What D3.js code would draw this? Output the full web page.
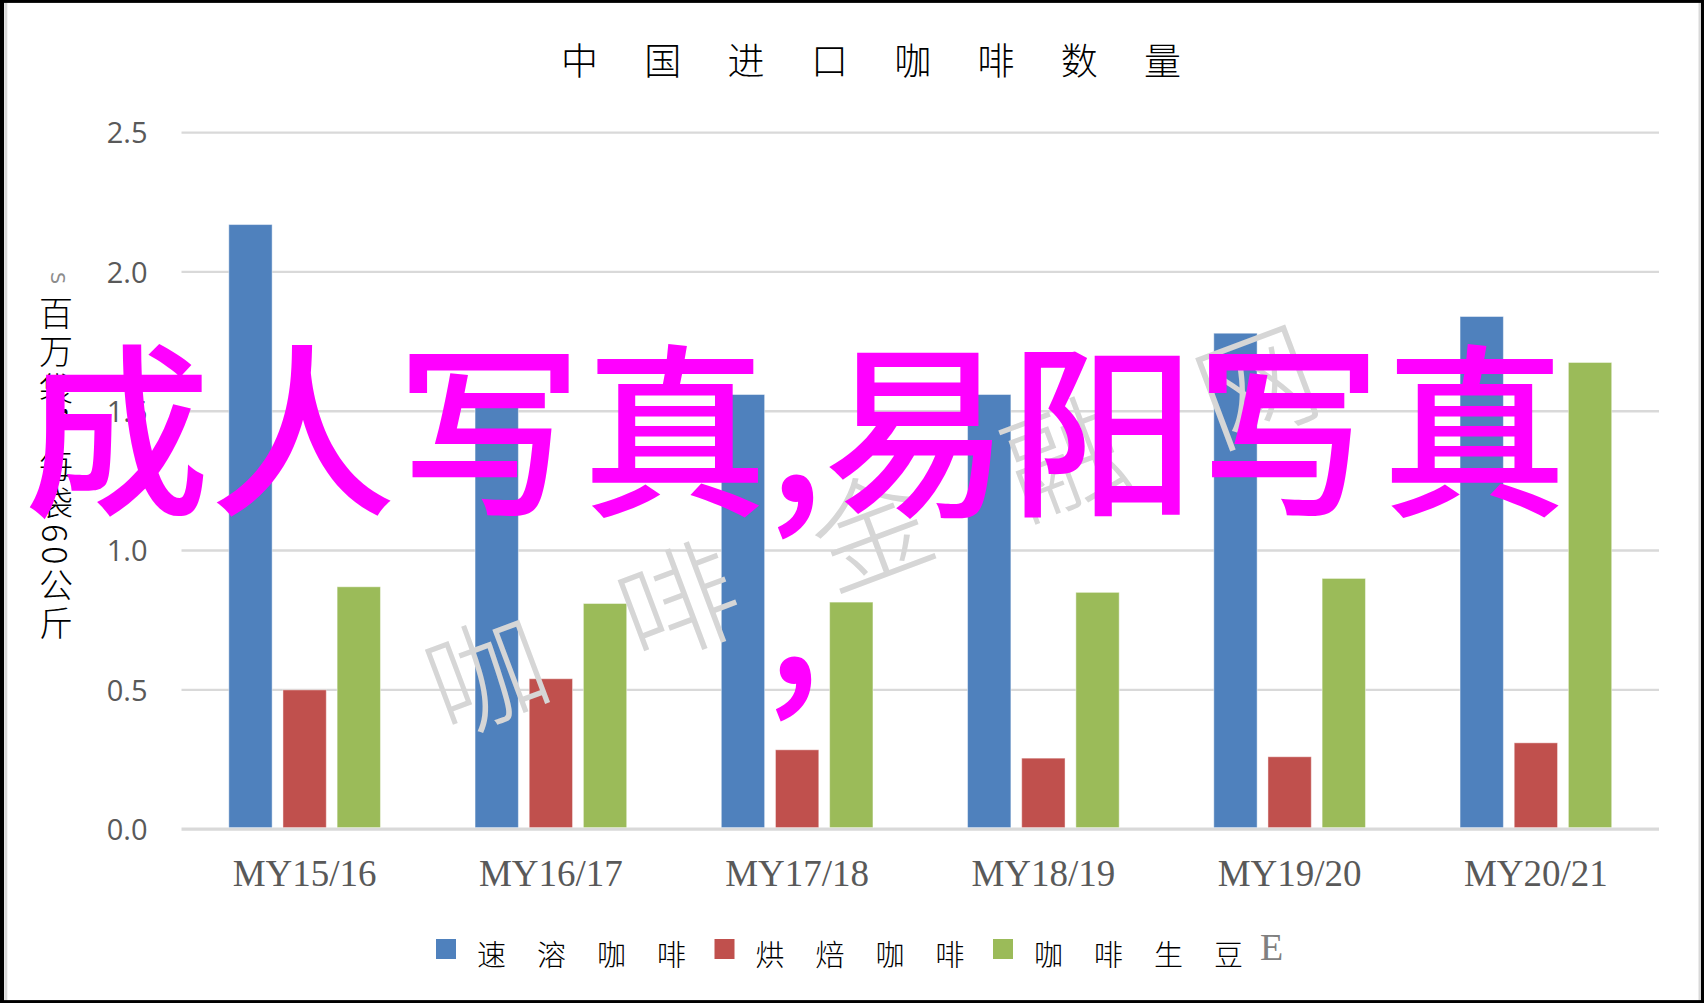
<!DOCTYPE html>
<html>
<head>
<meta charset="utf-8">
<script src="https://cdn.jsdelivr.net/npm/d3@7/dist/d3.min.js"></script>
<style>
  html, body { margin: 0; padding: 0; background: #fff; }
  svg { display: block; }
</style>
</head>
<body>
<svg id="chart" width="1704" height="1003"></svg>
<script>
// ---- data ----
const categories = ["MY15/16", "MY16/17", "MY17/18", "MY18/19", "MY19/20", "MY20/21"];
const seriesNames = ["速溶咖啡", "烘焙咖啡", "咖啡生豆"];
const instantCoffee = [2.17, 1.53, 1.56, 1.56, 1.78, 1.84];
const roastedCoffee = [0.50, 0.54, 0.285, 0.255, 0.26, 0.31];
const greenBeans = [0.87, 0.81, 0.815, 0.85, 0.90, 1.675];
const yTicks = [0, 0.5, 1.0, 1.5, 2.0, 2.5];
const titleText = "中国进口咖啡数量";
const yLabelText = "百万袋，每袋60公斤";
const watermarkText = "咖啡金融网";
const overlayText = "成人写真,易阳写真";

const seriesValues = [instantCoffee, roastedCoffee, greenBeans];
const colors = ["#4F81BD", "#C0504D", "#9BBB59"];

const W = 1704, H = 1003;
const plot = { left: 181.5, right: 1659, top: 132.6, bottom: 829.2 };

const svg = d3.select("#chart");

svg.append("rect").attr("x", 0).attr("y", 0).attr("width", W).attr("height", H).attr("fill", "#fff");

const x0 = d3.scaleBand().domain(categories).range([plot.left, plot.right]).padding(0);
const x1 = d3.scaleBand().domain(d3.range(seriesNames.length))
  .range([47.3, x0.bandwidth() - 47.3]).paddingInner(0.2);
const y = d3.scaleLinear().domain([0, 2.5]).range([plot.bottom, plot.top]);

// gridlines
svg.append("g").selectAll("line").data(yTicks).join("line")
  .attr("x1", plot.left).attr("x2", plot.right)
  .attr("y1", d => y(d)).attr("y2", d => y(d))
  .attr("stroke", "#d9d9d9")
  .attr("stroke-width", d => d === 0 ? 3.2 : 2.4);

// y axis labels
const yAxis = d3.axisLeft(y).tickValues(yTicks).tickFormat(d3.format(".1f")).tickSize(0).tickPadding(34);
const gy = svg.append("g").attr("transform", `translate(${plot.left},0)`).call(yAxis);
gy.select(".domain").remove();
gy.selectAll("text")
  .attr("fill", "#595959")
  .attr("font-family", "'Open Sans', 'DejaVu Sans', sans-serif")
  .attr("font-size", 29)
  .attr("dy", "0.35em");

// x axis labels
const xAxis = d3.axisBottom(x0).tickSize(0);
const gx = svg.append("g").attr("transform", `translate(0,${plot.bottom})`).call(xAxis);
gx.select(".domain").remove();
gx.selectAll("text")
  .attr("fill", "#595959")
  .attr("font-family", "'Liberation Serif', 'Times New Roman', serif")
  .attr("font-size", 37)
  .attr("y", 56.5)
  .attr("dy", 0);

// bars
const rows = categories.map((c, i) => ({ cat: c, vals: seriesValues.map(s => s[i]) }));
const groups = svg.append("g").selectAll("g").data(rows).join("g")
  .attr("transform", d => `translate(${x0(d.cat)},0)`);
groups.selectAll("rect").data(d => d.vals.map((v, k) => ({ v, k }))).join("rect")
  .attr("x", d => x1(d.k))
  .attr("width", x1.bandwidth())
  .attr("y", d => y(d.v))
  .attr("height", d => y(0) - y(d.v) - 1.6)
  .attr("fill", d => colors[d.k])
  .attr("stroke", "#ffffff")
  .attr("stroke-opacity", 0.45)
  .attr("stroke-width", 1);

// title
svg.append("text")
  .attr("x", 561).attr("y", 59)
  .attr("dominant-baseline", "central")
  .attr("font-family", "'Noto Sans CJK SC', sans-serif")
  .attr("font-weight", 300)
  .attr("font-size", 37)
  .attr("letter-spacing", 46.3)
  .attr("fill", "#000")
  .text(titleText);

// y axis title (vertical)
svg.append("text")
  .attr("x", 56).attr("y", 296)
  .attr("font-family", "'Noto Sans CJK SC', sans-serif")
  .attr("font-weight", 300)
  .attr("font-size", 34)
  .attr("letter-spacing", 4)
  .attr("fill", "#000")
  .style("writing-mode", "vertical-rl")
  .text(yLabelText);
svg.append("text")
  .attr("transform", "translate(58,278) rotate(90)")
  .attr("text-anchor", "middle")
  .attr("dominant-baseline", "central")
  .attr("font-family", "'DejaVu Sans', sans-serif")
  .attr("font-size", 19)
  .attr("fill", "#8c8c8c")
  .text("S");

// legend
const legend = svg.append("g").selectAll("g").data(seriesNames).join("g")
  .attr("transform", (d, i) => `translate(${436 + i * 278.5},0)`);
legend.append("rect").attr("x", 0).attr("y", 939).attr("width", 20).attr("height", 20)
  .attr("fill", (d, i) => colors[i]);
legend.append("text")
  .attr("x", 41).attr("y", 953)
  .attr("dominant-baseline", "central")
  .attr("font-family", "'Noto Sans CJK SC', sans-serif")
  .attr("font-weight", 300)
  .attr("font-size", 29)
  .attr("letter-spacing", 31)
  .attr("fill", "#000")
  .text(d => d);
svg.append("text")
  .attr("x", 1260).attr("y", 960)
  .attr("font-family", "'Liberation Serif', serif")
  .attr("font-size", 38)
  .attr("fill", "#808080")
  .text("E");

// watermark
svg.append("text")
  .attr("transform", "translate(484,668) rotate(-20.6)")
  .attr("x", -59).attr("y", 0)
  .attr("dominant-baseline", "central")
  .attr("font-family", "'Noto Sans CJK SC', sans-serif")
  .attr("font-weight", 300)
  .attr("font-size", 118)
  .attr("letter-spacing", 87.6)
  .attr("fill", "#d6d6d6")
  .text(watermarkText);

// magenta overlay
const overlay = svg.append("g").attr("fill", "#FF00FF")
  .attr("font-family", "'Noto Sans CJK SC', sans-serif")
  .attr("font-weight", 500)
  .attr("font-size", 186);
overlay.append("text").attr("x", 24).attr("y", 502).text(overlayText);
overlay.append("text").attr("x", 766).attr("y", 684).text(",");

// outer frame
svg.append("line").attr("x1", 5.8).attr("x2", 5.8).attr("y1", 0).attr("y2", H).attr("stroke", "#d9d9d9").attr("stroke-width", 3);
svg.append("line").attr("x1", 1700).attr("x2", 1700).attr("y1", 0).attr("y2", H).attr("stroke", "#d9d9d9").attr("stroke-width", 3);
svg.append("rect").attr("x", 1.5).attr("y", 1.4).attr("width", W - 3).attr("height", H - 2.8)
  .attr("fill", "none").attr("stroke", "#000").attr("stroke-width", 3);
svg.append("line").attr("x1", 2).attr("x2", 2).attr("y1", 0).attr("y2", H).attr("stroke", "#000").attr("stroke-width", 4);
</script>
</body>
</html>
